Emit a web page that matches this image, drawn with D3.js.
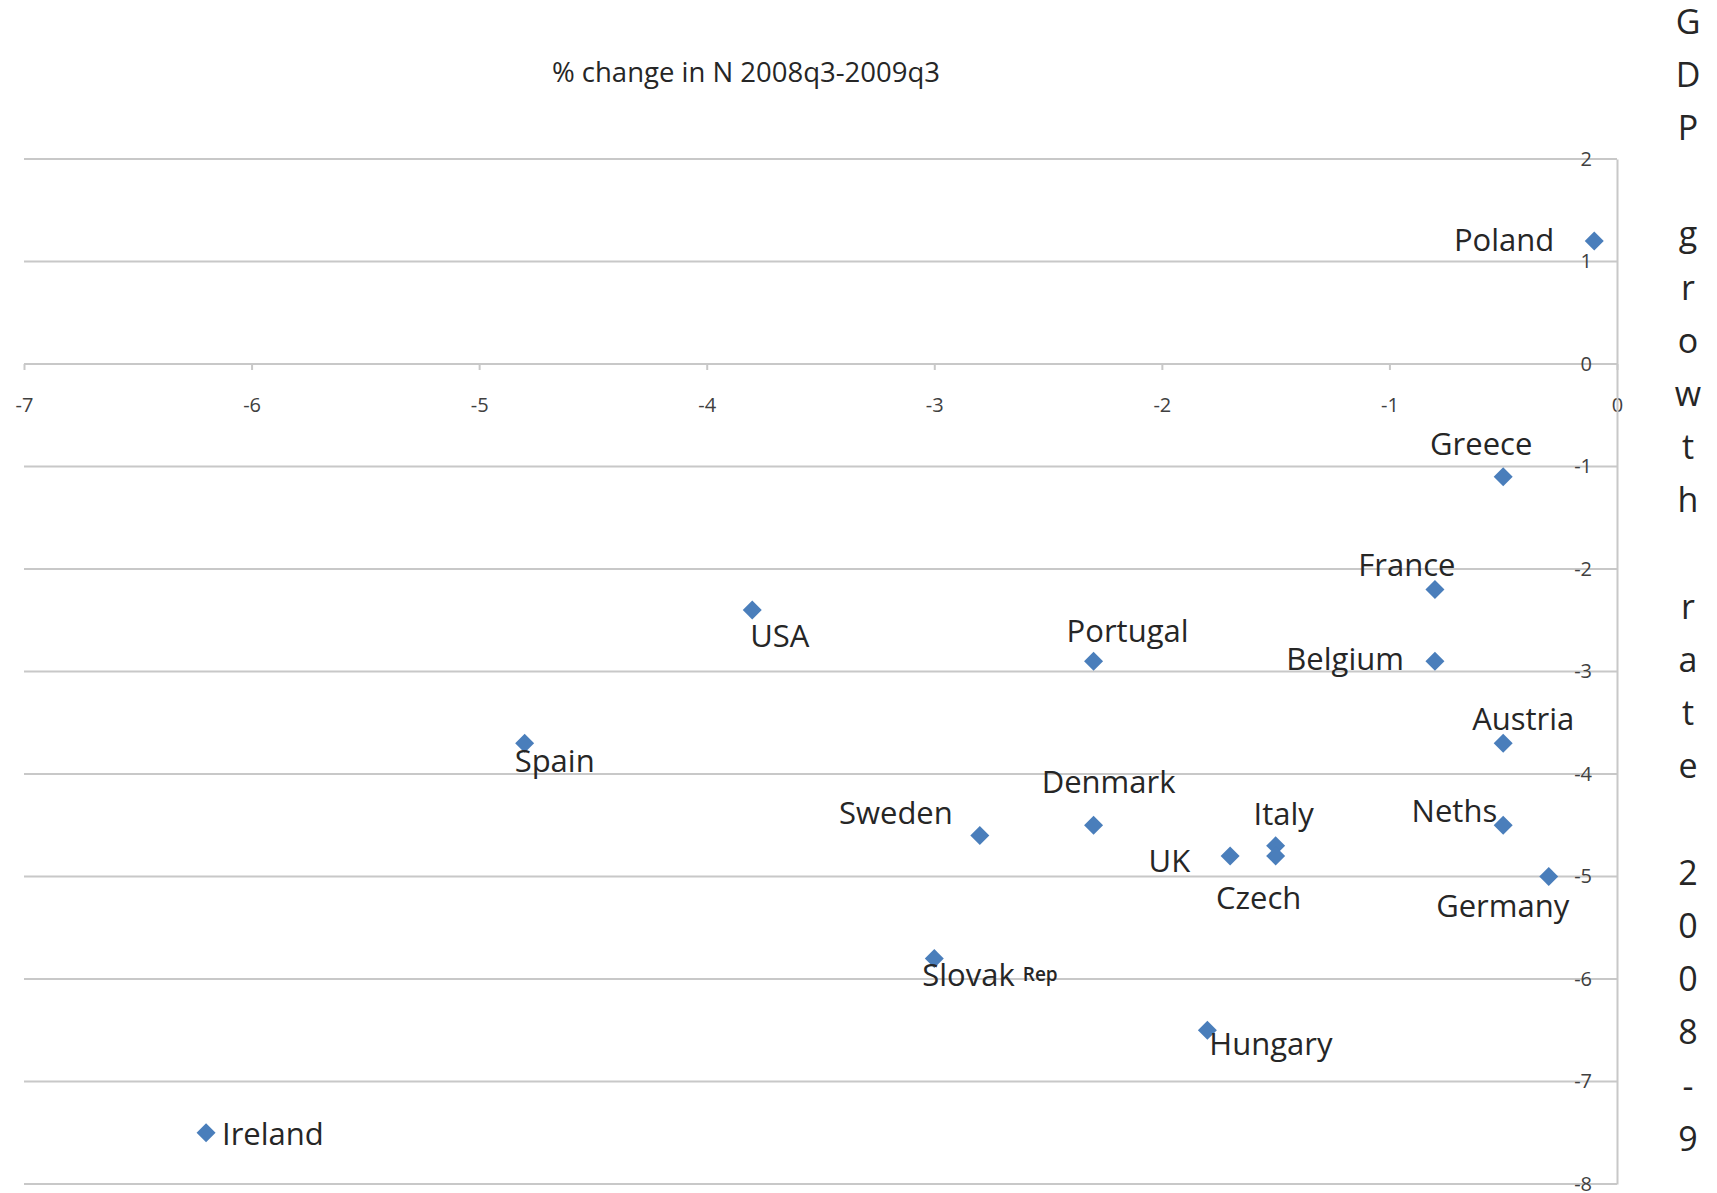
<!DOCTYPE html>
<html lang="en">

<head>
    <meta charset="UTF-8">
    <title>GDP growth vs % change in N</title>
    <script src="https://d3js.org/d3.v7.min.js"></script>
    <style>
        body {
            margin: 0;
            padding: 0;
            background: #fff;
        }

        svg {
            display: block;
            font-family: "Open Sans", sans-serif;
        }
    </style>
</head>

<body>
</body>
<script>

    // data
    var countries = ['Poland', 'Greece', 'France', 'USA', 'Portugal', 'Belgium', 'Austria', 'Spain', 'Denmark',
        'Sweden', 'Neths', 'Italy', 'Czech', 'UK', 'Germany', 'Slovak', 'Hungary', 'Ireland']
    var nChange = [-0.1, -0.5, -0.8, -3.8, -2.3, -0.8, -0.5, -4.8, -2.3, -2.8, -0.5, -1.5, -1.5, -1.7, -0.3, -3.0, -1.8, -6.2]
    var gdpGrowth = [1.2, -1.1, -2.2, -2.4, -2.9, -2.9, -3.7, -3.7, -4.5, -4.6, -4.5, -4.7, -4.8, -4.8, -5.0, -5.8, -6.5, -7.5]
    var xTicks = [-7, -6, -5, -4, -3, -2, -1, 0]
    var yTicks = [2, 1, 0, -1, -2, -3, -4, -5, -6, -7, -8]
    var title = '% change in N 2008q3-2009q3'
    var yTitle = 'GDP growth rate 2008-9'

    // where each data label sits relative to its marker (anchor, dx, dy in px)
    var labelPos = {
        Poland: ['end', -40, -2],
        Greece: ['middle', -22, -34],
        France: ['middle', -28, -26],
        USA: ['start', -2, 25],
        Portugal: ['middle', 34, -31],
        Belgium: ['end', -31, -3],
        Austria: ['middle', 20, -25],
        Spain: ['start', -10, 17],
        Denmark: ['middle', 15, -44],
        Sweden: ['end', -27, -24],
        Neths: ['end', -6, -15],
        Italy: ['middle', 8, -33],
        Czech: ['middle', -17, 41],
        UK: ['end', -40, 4],
        Germany: ['middle', -46, 28],
        Slovak: ['start', -12, 15],
        Hungary: ['start', 2, 13],
        Ireland: ['start', 16, 0]
    }

    var W = 1717, H = 1193
    var gridColor = '#c8c8c8'
    var textColor = '#262626'

    // plain hyphen for negative ticks, like the original
    function fmt(d) { return String(d) }

    var x = d3.scaleLinear().domain([-7, 0]).range([24, 1617])
    var y = d3.scaleLinear().domain([-8, 2]).range([1184, 159])

    var svg = d3.select('body').append('svg')
        .attr('width', W)
        .attr('height', H)

    // horizontal gridlines
    svg.append('g').selectAll('line')
        .data(yTicks)
        .enter()
        .append('line')
        .attr('x1', x(-7))
        .attr('x2', x(0))
        .attr('y1', function (d) { return y(d) })
        .attr('y2', function (d) { return y(d) })
        .attr('stroke', gridColor)
        .attr('stroke-width', 2)

    // x axis crosses at y = 0
    var xAxis = svg.append('g')
        .attr('transform', 'translate(0,' + y(0) + ')')
        .call(d3.axisBottom(x).tickValues(xTicks).tickSize(6).tickSizeOuter(0).tickFormat(fmt))
    xAxis.select('.domain').remove()
    xAxis.selectAll('line').attr('stroke', gridColor).attr('stroke-width', 2)
    xAxis.selectAll('text')
        .attr('y', 41)
        .attr('dy', '0.35em')
        .attr('fill', '#404040')
        .style('font-family', '"Open Sans", sans-serif')
        .style('font-size', '20px')

    // y axis on the right edge (x = 0), labels to its left
    var yAxis = svg.append('g')
        .attr('transform', 'translate(' + x(0) + ',0)')
        .call(d3.axisLeft(y).tickValues(yTicks).tickSize(0).tickPadding(25).tickFormat(fmt))
    yAxis.select('.domain').attr('stroke', gridColor).attr('stroke-width', 2)
    yAxis.selectAll('text')
        .attr('fill', '#404040')
        .style('font-family', '"Open Sans", sans-serif')
        .style('font-size', '20px')

    // markers
    var diamond = d3.symbol().type(d3.symbolDiamond2).size(230)
    svg.append('g').selectAll('path')
        .data(countries)
        .enter()
        .append('path')
        .attr('d', diamond)
        .attr('transform', function (d, i) { return 'translate(' + x(nChange[i]) + ',' + y(gdpGrowth[i]) + ')' })
        .attr('fill', '#4a7ebb')

    // data labels
    var labels = svg.append('g').selectAll('text')
        .data(countries)
        .enter()
        .append('text')
        .attr('x', function (d, i) { return x(nChange[i]) + labelPos[d][1] })
        .attr('y', function (d, i) { return y(gdpGrowth[i]) + labelPos[d][2] })
        .attr('text-anchor', function (d) { return labelPos[d][0] })
        .attr('dominant-baseline', 'central')
        .attr('fill', textColor)
        .style('font-size', '31px')
        .text(function (d) { return d })
    labels.filter(function (d) { return d == 'Slovak' })
        .append('tspan')
        .attr('dx', 8)
        .style('font-size', '19px')
        .style('font-weight', 600)
        .text('Rep')

    // chart title
    svg.append('text')
        .attr('x', 746)
        .attr('y', 71)
        .attr('text-anchor', 'middle')
        .attr('dominant-baseline', 'central')
        .attr('fill', textColor)
        .style('font-size', '27.5px')
        .text(title)

    // stacked vertical y title, one character per line
    svg.append('g').selectAll('text')
        .data(yTitle.split(''))
        .enter()
        .append('text')
        .attr('x', 1688)
        .attr('y', function (d, i) { return 33.5 + i * 53.2 })
        .attr('text-anchor', 'middle')
        .attr('fill', textColor)
        .style('font-size', '34px')
        .text(function (d) { return d })

</script>

</html>
